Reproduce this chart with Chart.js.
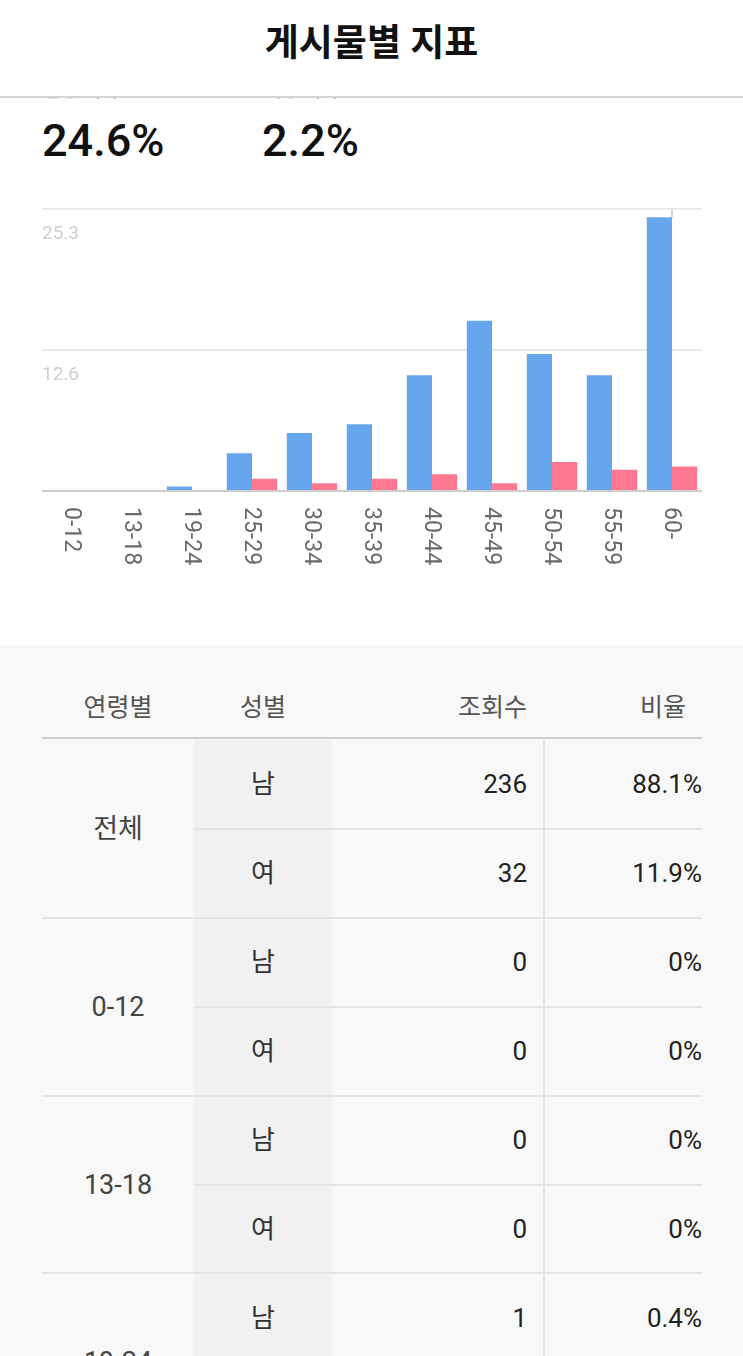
<!DOCTYPE html>
<html lang="ko">
<head>
<meta charset="utf-8">
<script src="https://cdn.jsdelivr.net/npm/chart.js@4"></script>
<style>
  html, body { margin:0; padding:0; width:743px; height:1356px; overflow:hidden; background:#fff;
    font-family: Roboto, "Noto Sans CJK KR", sans-serif; }
  #header { position:absolute; left:0; top:0; width:743px; height:96px; background:#fff;
    border-bottom:2px solid #d4d4d4; z-index:5; }
  #title { position:absolute; left:0; width:743px; top:20px; text-align:center; font-size:37px;
    font-weight:700; color:#111; line-height:48px; }
  .peek { position:absolute; top:80px; font-size:19px; color:#888; line-height:22px; }
  .big { position:absolute; top:115px; font-size:45px; font-weight:500; color:#111; line-height:52px; }
  #chartWrap { position:absolute; left:42px; top:198px; width:660px; height:380px; }
  #tableBg { position:absolute; left:0; top:645px; width:743px; height:1000px; background:#f8f8f8; }
  .abs { position:absolute; white-space:nowrap; }
</style>
</head>
<body>
<div id="header"><div id="title">게시물별 지표</div></div>
<div class="peek" style="left:44px">남성 최다</div>
<div class="peek" style="left:264px">여성 최다</div>
<div class="big" style="left:42px">24.6%</div>
<div class="big" style="left:262px">2.2%</div>
<div id="chartWrap"><canvas id="c" width="660" height="380"></canvas></div>
<div id="tableBg"></div>
<div id="table"></div>
<script>
// ---- chart data (percent of all views) ----
const categories = ['0-12','13-18','19-24','25-29','30-34','35-39','40-44','45-49','50-54','55-59','60-'];
const maleShare   = [0, 0, 0.4, 3.4, 5.2, 6.0, 10.4, 15.3, 12.3, 10.4, 24.6];
const femaleShare = [0, 0, 0,   1.1, 0.7, 1.1, 1.5,  0.7,  2.6,  1.9,  2.2];
const yTickValues = [0, 12.65, 25.3];
const yTickLabels = ['', '12.6', '25.3'];
const selectedIndex = 10; // highlighted category (thin marker line)

// ---- table data (views) ----
const tableHeaders = ['연령별', '성별', '조회수', '비율'];
const genders = ['남', '여'];
const tableGroups = ['전체','0-12','13-18','19-24','25-29','30-34','35-39','40-44','45-49','50-54','55-59','60-'];
const maleViews   = [236, 0, 0, 1, 9, 14, 16, 28, 41, 33, 28, 66];
const femaleViews = [32, 0, 0, 0, 3, 2, 3, 4, 2, 7, 5, 6];

const xLabelPlugin = {
  id: 'xLabels',
  afterDraw(chart) {
    const ctx = chart.ctx, xs = chart.scales.x;
    ctx.save();
    ctx.fillStyle = '#6a6a6a';
    ctx.font = '23px Roboto';
    ctx.textAlign = 'left';
    ctx.textBaseline = 'middle';
    categories.forEach((lab, i) => {
      const x = xs.getPixelForTick(i) - 1;
      ctx.save();
      ctx.translate(x, chart.chartArea.bottom + 16);
      ctx.rotate(Math.PI / 2);
      ctx.fillText(lab, 0, 0);
      ctx.restore();
    });
    const bar = chart.getDatasetMeta(0).data[selectedIndex];
    if (bar) {
      const bx = Math.round(bar.x + bar.width / 2);
      ctx.strokeStyle = '#d0d0d0';
      ctx.lineWidth = 2;
      ctx.beginPath();
      ctx.moveTo(bx, chart.chartArea.top);
      ctx.lineTo(bx, bar.y);
      ctx.stroke();
    }
    ctx.restore();
  }
};

new Chart(document.getElementById('c'), {
  type: 'bar',
  data: {
    labels: categories,
    datasets: [
      { label: '남', data: maleShare, backgroundColor: '#66a6ee', borderWidth: 0,
        categoryPercentage: 0.84, barPercentage: 1.0 },
      { label: '여', data: femaleShare, backgroundColor: '#ff7891', borderWidth: 0,
        categoryPercentage: 0.84, barPercentage: 1.0 }
    ]
  },
  options: {
    responsive: false,
    devicePixelRatio: 1,
    animation: false,
    layout: { padding: { top: 5, bottom: 79, left: 0, right: 0 } },
    plugins: { legend: { display: false }, tooltip: { enabled: false } },
    scales: {
      x: {
        grid: { display: false },
        border: { display: true, color: '#cdcdcd', width: 2 },
        ticks: { display: false }
      },
      y: {
        min: 0, max: 25.3,
        afterBuildTicks: axis => { axis.ticks = yTickValues.map(v => ({ value: v })); },
        grid: { drawTicks: false, lineWidth: 2,
          color: c => (c.tick && c.tick.value === 0) ? 'rgba(0,0,0,0)' : '#ebebeb' },
        border: { display: false },
        ticks: {
          mirror: true, padding: 0, labelOffset: 25,
          color: '#cfcfcf', font: { family: 'Roboto', size: 19 },
          callback: (v, i) => yTickLabels[i]
        }
      }
    }
  },
  plugins: [xLabelPlugin]
});

// ---- table ----
(function buildTable() {
  const root = document.getElementById('table');
  const add = (html, style) => {
    const d = document.createElement('div');
    d.className = 'abs';
    d.style.cssText = style;
    d.innerHTML = html;
    root.appendChild(d);
  };
  const total = maleViews[0] + femaleViews[0];
  const pct = v => v === 0 ? '0%' : (v / total * 100).toFixed(1) + '%';
  const top0 = 740, rowH = 88.9;
  const nRows = tableGroups.length * 2;
  add('', `left:194px; top:${top0}px; width:138px; height:${nRows * rowH}px; background:#f1f1f1;`);
  add('', `left:543px; top:${top0}px; width:2px; height:${nRows * rowH}px; background:#e2e2e2;`);
  const hs = 'top:688px; font-size:25px; color:#555; line-height:40px;';
  add(tableHeaders[0], hs + 'left:42px; width:152px; text-align:center;');
  add(tableHeaders[1], hs + 'left:194px; width:138px; text-align:center;');
  add(tableHeaders[2], hs + 'left:332px; width:195px; text-align:right;');
  add(tableHeaders[3], hs + 'left:544px; width:142px; text-align:right;');
  add('', 'left:42px; top:737px; width:660px; height:2px; background:#cfcfcf;');
  const cell = 'font-size:26px; color:#333; line-height:40px;';
  tableGroups.forEach((g, gi) => {
    const gTop = top0 + gi * 2 * rowH;
    add(g, cell + `font-size:27px; left:42px; width:152px; text-align:center; top:${gTop + rowH - 20}px; color:#444;`);
    [maleViews[gi], femaleViews[gi]].forEach((v, ri) => {
      const rTop = gTop + ri * rowH;
      const cy = rTop + rowH / 2 - 20;
      add(genders[ri], cell + `left:194px; width:138px; text-align:center; top:${cy}px;`);
      add(String(v), cell + `left:332px; width:195px; text-align:right; top:${cy}px; color:#222;`);
      add(pct(v), cell + `left:544px; width:158px; text-align:right; top:${cy}px; color:#222;`);
      const lineTop = rTop + rowH - 1;
      if (ri === 0) add('', `left:194px; top:${lineTop}px; width:508px; height:2px; background:#e4e4e4;`);
      else add('', `left:42px; top:${lineTop}px; width:660px; height:2px; background:#e4e4e4;`);
    });
  });
})();
</script>
</body>
</html>
